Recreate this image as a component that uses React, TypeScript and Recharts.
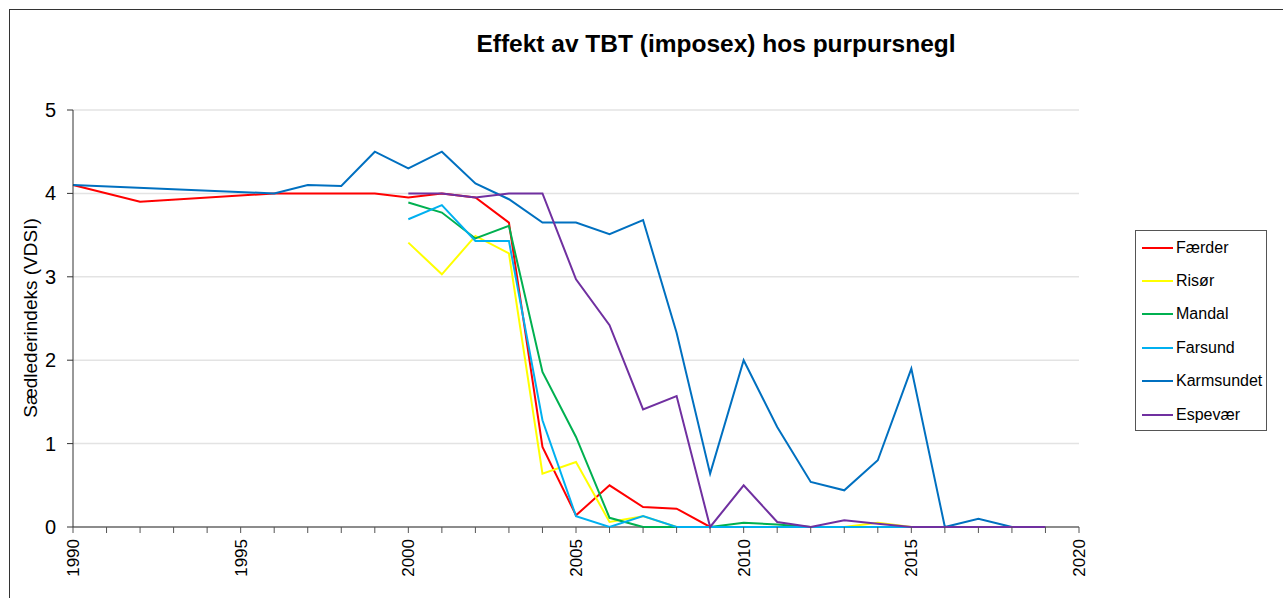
import React from 'react';
import { LineChart, Line, XAxis, YAxis, CartesianGrid, Legend, ReferenceLine } from 'recharts';

const years = [
  1990, 1991, 1992, 1993, 1994, 1995, 1996, 1997, 1998, 1999,
  2000, 2001, 2002, 2003, 2004, 2005, 2006, 2007, 2008, 2009,
  2010, 2011, 2012, 2013, 2014, 2015, 2016, 2017, 2018, 2019,
];

const faerder = [
  4.1, null, 3.9, null, null, null, 4.0, 4.0, 4.0, 4.0,
  3.95, 4.0, 3.95, 3.65, 0.96, 0.14, 0.5, 0.24, 0.22, 0,
  0, 0, 0, 0, 0, 0, null, null, null, null,
];
const risor = [
  null, null, null, null, null, null, null, null, null, null,
  3.41, 3.03, 3.49, 3.28, 0.64, 0.78, 0.06, 0.13, 0, 0,
  0, 0, 0, 0, 0.05, 0, null, null, null, null,
];
const mandal = [
  null, null, null, null, null, null, null, null, null, null,
  3.89, 3.77, 3.46, 3.61, 1.86, 1.08, 0.11, 0, 0, 0,
  0.05, 0.03, 0, 0, 0, 0, null, null, null, null,
];
const farsund = [
  null, null, null, null, null, null, null, null, null, null,
  3.69, 3.86, 3.43, 3.43, 1.28, 0.13, 0, 0.13, 0, 0,
  0, 0, 0, 0, 0, 0, null, null, null, null,
];
const karmsundet = [
  4.1, null, null, null, null, null, 4.0, 4.1, 4.09, 4.5,
  4.3, 4.5, 4.12, 3.93, 3.65, 3.65, 3.51, 3.68, 2.33, 0.64,
  2.0, 1.2, 0.54, 0.44, 0.8, 1.9, 0, 0.1, 0, null,
];
const espevaer = [
  null, null, null, null, null, null, null, null, null, null,
  4.0, 4.0, 3.95, 4.0, 4.0, 2.97, 2.42, 1.41, 1.57, 0,
  0.5, 0.06, 0, 0.08, 0.04, 0, 0, 0, 0, 0,
];

const xTicks = [
  1990, 1991, 1992, 1993, 1994, 1995, 1996, 1997, 1998, 1999, 2000,
  2001, 2002, 2003, 2004, 2005, 2006, 2007, 2008, 2009, 2010,
  2011, 2012, 2013, 2014, 2015, 2016, 2017, 2018, 2019, 2020,
];
const yTicks = [0, 1, 2, 3, 4, 5];

const series = [
  { key: 'faerder', name: 'Færder', color: '#FF0000', values: faerder },
  { key: 'risor', name: 'Risør', color: '#FFFF00', values: risor },
  { key: 'mandal', name: 'Mandal', color: '#00B050', values: mandal },
  { key: 'farsund', name: 'Farsund', color: '#00B0F0', values: farsund },
  { key: 'karmsundet', name: 'Karmsundet', color: '#0070C0', values: karmsundet },
  { key: 'espevaer', name: 'Espevær', color: '#7030A0', values: espevaer },
];

const data = years.map((year, i) => {
  const row: Record<string, number | null> = { year };
  series.forEach(s => { row[s.key] = s.values[i]; });
  return row;
});

const font = 'Arial, "Liberation Sans", sans-serif';

const YearTick = (props: any) => {
  const { x, y, payload } = props;
  if (payload.value % 5 !== 0) return null;
  return (
    <text
      x={0}
      y={0}
      transform={`translate(${x + 6},${y + 4}) rotate(-90)`}
      textAnchor="end"
      fontSize={17}
      fontFamily={font}
      fill="#000"
    >
      {payload.value}
    </text>
  );
};

const ValueTick = (props: any) => {
  const { x, y, payload } = props;
  return (
    <text x={x - 9} y={y} dy={7} textAnchor="end" fontSize={20} fontFamily={font} fill="#000">
      {payload.value}
    </text>
  );
};

const LegendBox = () => (
  <div
    style={{
      width: 132,
      height: 201,
      border: '1px solid #555',
      background: '#fff',
      boxSizing: 'border-box',
    }}
  >
    {series.map(s => (
      <div key={s.key} style={{ display: 'flex', alignItems: 'center', height: 33.4 }}>
        <div style={{ width: 31, height: 2, background: s.color, marginLeft: 6, marginRight: 3 }} />
        <span style={{ fontFamily: font, fontSize: 16, color: '#000' }}>{s.name}</span>
      </div>
    ))}
  </div>
);

export default function App() {
  return (
    <div style={{ position: 'absolute', left: 0, top: 0, width: 1283, height: 598, background: '#fff' }}>
      <div
        style={{
          position: 'absolute',
          left: 9,
          top: 9,
          width: 1274,
          height: 589,
          borderTop: '1px solid #333',
          borderLeft: '1px solid #333',
        }}
      />
      <div
        style={{
          position: 'absolute',
          left: 0,
          width: 1432,
          top: 30,
          textAlign: 'center',
          fontFamily: font,
          fontWeight: 'bold',
          fontSize: 24.5,
          color: '#000',
        }}
      >
        Effekt av TBT (imposex) hos purpursnegl
      </div>
      <div
        style={{
          position: 'absolute',
          left: 31,
          top: 318,
          transform: 'translate(-50%, -50%) rotate(-90deg)',
          whiteSpace: 'nowrap',
          fontFamily: font,
          fontSize: 19,
          color: '#000',
        }}
      >
        Sædlederindeks (VDSI)
      </div>
      <LineChart
        width={1283}
        height={598}
        data={data}
        margin={{ top: 110, right: 72, bottom: 11, left: 13 }}
        style={{ position: 'absolute', left: 0, top: 0 }}
      >
        <CartesianGrid horizontal vertical={false} stroke="#e3e3e3" strokeWidth={1.5} />
        <ReferenceLine y={0} stroke="#8c8c8c" strokeWidth={2} />
        <XAxis
          dataKey="year"
          type="number"
          domain={[1990, 2020]}
          ticks={xTicks}
          interval={0}
          height={60}
          tick={<YearTick />}
          tickSize={6}
          axisLine={false}
          tickLine={{ stroke: '#555' }}
        />
        <YAxis
          type="number"
          domain={[0, 5]}
          ticks={yTicks}
          width={60}
          tickSize={6}
          axisLine={{ stroke: '#333' }}
          tickLine={{ stroke: '#333' }}
          tick={<ValueTick />}
        />
        <Legend
          layout="vertical"
          verticalAlign="top"
          align="right"
          content={<LegendBox />}
          wrapperStyle={{ left: 1135, top: 230, width: 132 }}
        />
        {series.map(s => (
          <Line
            key={s.key}
            type="linear"
            dataKey={s.key}
            name={s.name}
            stroke={s.color}
            strokeWidth={2}
            dot={false}
            connectNulls
            isAnimationActive={false}
          />
        ))}
      </LineChart>
    </div>
  );
}
